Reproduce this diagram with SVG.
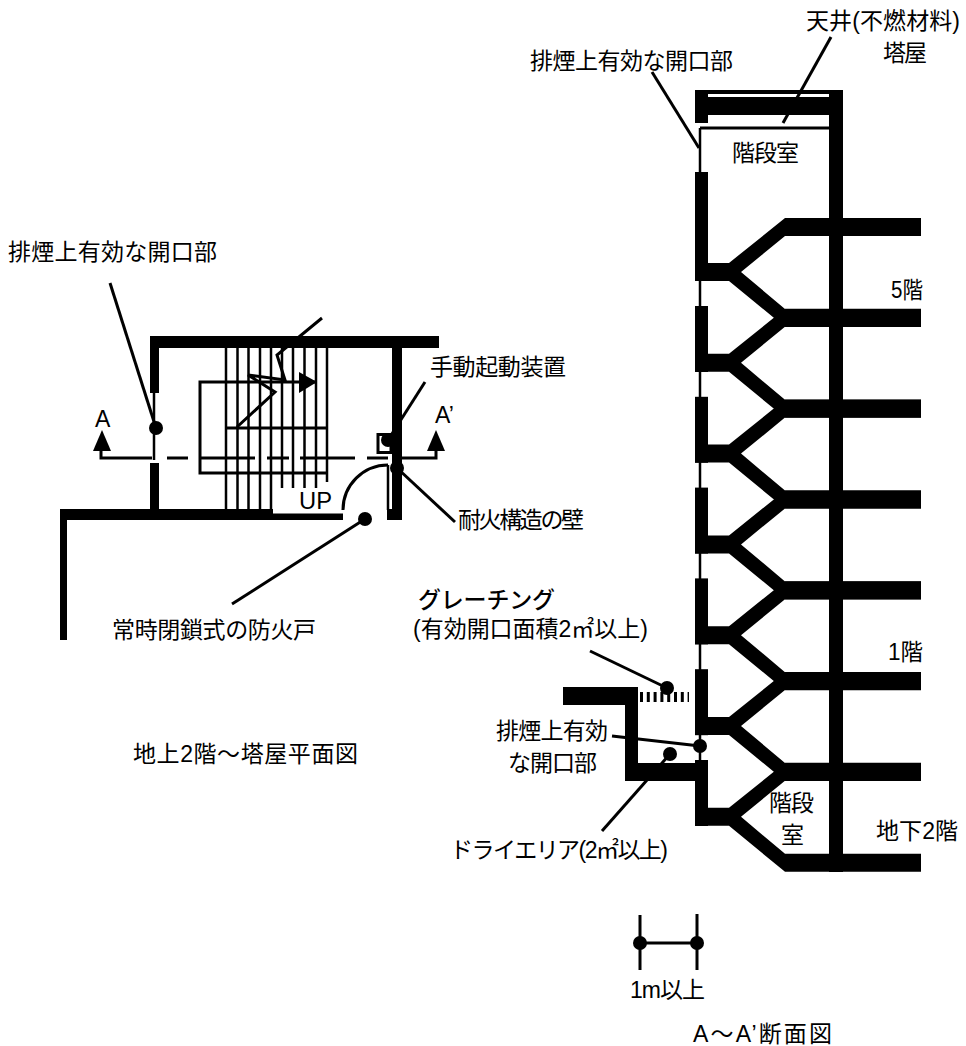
<svg xmlns="http://www.w3.org/2000/svg" xmlns:xlink="http://www.w3.org/1999/xlink" width="966" height="1046" viewBox="0 0 966 1046">
<style>
text{font-family:"Liberation Sans","Noto Sans CJK JP",sans-serif;font-size:23px;fill:#000}
.lat{font-family:"Liberation Sans",sans-serif;font-size:23px}
.w{fill:#000}
.t{fill:none;stroke:#000;stroke-width:3}
.t2{fill:none;stroke:#000;stroke-width:2.500}
.d{fill:#000}
</style>
<defs>
<path id="unit" d="M695 263H729L785 218H921V236H785L741 272L785 309H921V327H785L729 281H695Z" class="w"/>
</defs>
<rect width="966" height="1046" fill="#fff"/>
<g id="plan-walls">
<path class="w" d="M150 336H439V348H402V520H387V509H392V348H159V393H150Z"/>
<path class="w" d="M150 463H159V509H273V513.500H343V520H67V640H60V509H150Z"/>
<path class="t2" d="M154 393V460M388 465V510"/>
</g>
<g id="plan-stairs">
<path class="t2" d="M226 348V509M237.500 348V509M248.500 348V509M260 348V509M271 348V509M282 348V488M293 348V488M304.500 348V488M316 348V488M327 348V482"/>
<path class="t" d="M317 382H200V473H326M226 428H327"/>
<path class="t" d="M237 427L275 392L248 375L285 380L277 355L322 318"/>
<polygon class="d" points="299,372 317,382 299,393"/>
<text class="lat" x="299" y="509" textLength="33" lengthAdjust="spacingAndGlyphs">UP</text>
</g>
<g id="section-line">
<path class="t" d="M152 458H101V450M167 458H188M200 458H255M267 458H289M300 458H355M367 458H388M400 458H436V450"/>
<polygon class="d" points="102,430 111,451 93,451"/>
<polygon class="d" points="436,430 445,451 427,451"/>
<text class="lat" x="95" y="427">A</text>
<text class="lat" x="435" y="423">A’</text>
</g>
<g id="door">
<path class="t" d="M343 510A45 45 0 0 1 388 465"/>
<circle class="d" cx="365" cy="519" r="7"/>
<path class="t" d="M365 519L232 604"/>
</g>
<g id="manual-device">
<rect x="378" y="434.500" width="13" height="18" class="t"/>
<circle class="d" cx="388" cy="440" r="7"/>
<path class="t" d="M425 382L388 440"/>
</g>
<g id="plan-leaders">
<circle class="d" cx="156" cy="428" r="7"/>
<path class="t" d="M110 283L156 428"/>
<circle class="d" cx="397" cy="468" r="7"/>
<path class="t" d="M397 468L455 522"/>
</g>
<g id="section">
<path class="w" d="M695 90H843V872H829V115H708V123H695Z"/>
<rect x="708" y="94" width="121" height="3" fill="#fff"/>
<path class="t" d="M700 128H829"/>
<path class="t2" d="M700 128V760"/>
<rect class="w" x="695" y="172" width="13" height="100"/>
<rect class="w" x="695" y="306" width="13" height="66"/>
<rect class="w" x="695" y="396.800" width="13" height="66"/>
<rect class="w" x="695" y="487.600" width="13" height="66"/>
<rect class="w" x="695" y="578.400" width="13" height="66"/>
<rect class="w" x="695" y="669.200" width="13" height="66"/>
<rect class="w" x="695" y="760" width="13" height="66"/>
<use xlink:href="#unit"/>
<use xlink:href="#unit" y="90.800"/>
<use xlink:href="#unit" y="181.600"/>
<use xlink:href="#unit" y="272.400"/>
<use xlink:href="#unit" y="363.200"/>
<use xlink:href="#unit" y="454"/>
<use xlink:href="#unit" y="544.800"/>
</g>
<g id="dry-area">
<path class="w" d="M563 687H638V763H695V781H625V705H563Z"/>
<path d="M640 697H689" fill="none" stroke="#000" stroke-width="10" stroke-dasharray="3 3.800"/>
</g>
<g id="connectors">
<path class="t" d="M831 37L783 123"/>
<path class="t" d="M652 72L699 148"/>
<circle class="d" cx="667" cy="688" r="7"/>
<path class="t" d="M590 651L667 688"/>
<circle class="d" cx="670" cy="754" r="7"/>
<path class="t" d="M670 754L602 831"/>
<circle class="d" cx="700" cy="746" r="7"/>
<path class="t" d="M612 736L700 746"/>
</g>
<g id="dimension">
<circle class="d" cx="640" cy="943" r="7"/>
<circle class="d" cx="697" cy="943" r="7"/>
<path class="t" d="M640 915V970M697 914V970M640 943H697"/>
</g>
<g id="labels">
<text x="8" y="260" textLength="209">排煙上有効な開口部</text>
<text x="530" y="69" textLength="203">排煙上有効な開口部</text>
<text x="806" y="29" textLength="154">天井(不燃材料)</text>
<text x="883" y="61" textLength="44">塔屋</text>
<text x="732" y="161" textLength="67">階段室</text>
<text x="891" y="298" textLength="32" lengthAdjust="spacingAndGlyphs">5階</text>
<text x="888" y="660" textLength="35" lengthAdjust="spacingAndGlyphs">1階</text>
<text x="769" y="811" textLength="45">階段</text>
<text x="781" y="843" textLength="22">室</text>
<text x="876" y="839" textLength="82">地下2階</text>
<text x="496" y="739" textLength="112">排煙上有効</text>
<text x="508" y="771" textLength="89">な開口部</text>
<text x="450" y="858" textLength="218">ドライエリア(2㎡以上)</text>
<text x="413" y="637" textLength="235">(有効開口面積2㎡以上)</text>
<text x="418" y="608" textLength="137" font-weight="500">グレーチング</text>
<text x="112" y="638" textLength="204">常時閉鎖式の防火戸</text>
<text x="133" y="762" textLength="225">地上2階〜塔屋平面図</text>
<text x="430" y="375" textLength="136">手動起動装置</text>
<text x="458" y="528" textLength="126">耐火構造の壁</text>
<text x="630" y="998" textLength="75">1m以上</text>
<text x="693" y="1042" textLength="139">A〜A’断面図</text>
</g>
</svg>
